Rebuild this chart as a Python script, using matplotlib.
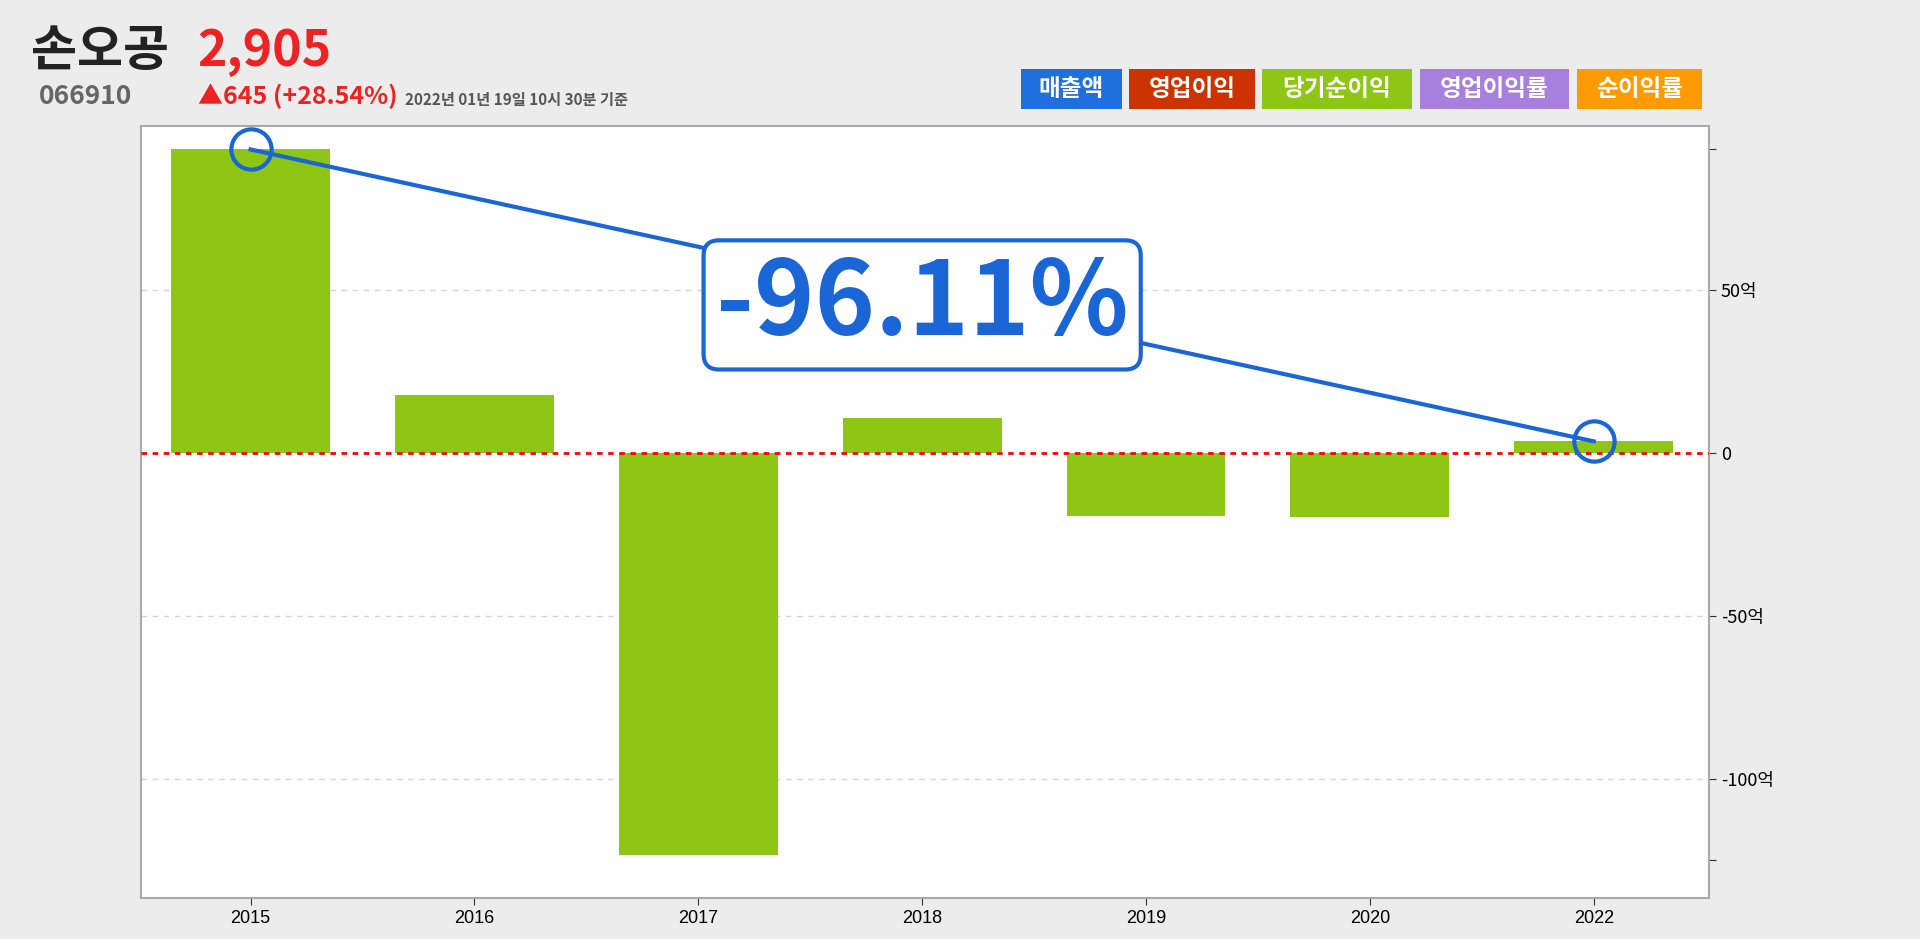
import matplotlib.pyplot as plt
from matplotlib.patches import Rectangle, Ellipse

plt.rcParams['font.family'] = ['Noto Sans CJK KR', 'DejaVu Sans']

years = ["2015", "2016", "2017", "2018", "2019", "2020", "2022"]
net_income = [93.2, 17.7, -123.3, 10.9, -19.2, -19.5, 3.63]
ytick_vals = [93.2, 50, 0, -50, -100, -125]
ytick_labels = ["", "50억", "0", "-50억", "-100억", ""]

legend_names = ["매출액", "영업이익", "당기순이익", "영업이익률", "순이익률"]
legend_colors = ["#1f6fdc", "#cc3300", "#8dc614", "#a77fdc", "#ff9b00"]

BLUE = "#1a66d6"
GREEN = "#8dc614"

fig = plt.figure(figsize=(19.2, 9.39), dpi=100)
fig.patch.set_facecolor("#ececec")
ax = fig.add_axes([0.0734, 0.0437, 0.8167, 0.8221])

x = list(range(len(years)))
ax.bar(x, net_income, width=0.71, color=GREEN, zorder=2)
ax.axhline(0, color="red", linestyle=(0, (2, 2)), linewidth=2, zorder=3)
for v in [50, -50, -100]:
    ax.axhline(v, color="#d5d5d5", linestyle=(0, (4, 4)), linewidth=1, zorder=1)

ax.set_xlim(-0.49, 6.515)
ax.set_ylim(-136.5, 100.4)
ax.set_xticks(x)
ax.set_xticklabels(years, fontsize=13, family=['Liberation Sans', 'DejaVu Sans'])
ax.yaxis.tick_right()
ax.set_yticks(ytick_vals)
ax.set_yticklabels(ytick_labels, fontsize=13)
ax.tick_params(axis="y", length=5, color="#333333")
ax.tick_params(axis="x", length=5, color="#333333")
for s in ax.spines.values():
    s.set_color("#aaaaaa")
    s.set_linewidth(1.5)

# change line between first and last
ax.plot([x[0], x[-1]], [net_income[0], net_income[-1]], color=BLUE, linewidth=3, zorder=4)
for xi, yi in [(x[0], net_income[0]), (x[-1], net_income[-1])]:
    ax.plot(xi, yi, marker="o", markersize=29, markerfacecolor="none",
            markeredgecolor=BLUE, markeredgewidth=3, zorder=5)

pct = (net_income[-1] - net_income[0]) / net_income[0] * 100
ax.text(3.0, 45.5, f"{pct:.2f}%", fontsize=74, fontweight="bold", color=BLUE,
        ha="center", va="center", zorder=6,
        bbox=dict(boxstyle="round,pad=0.12,rounding_size=0.15", facecolor="white",
                  edgecolor=BLUE, linewidth=3))

# header
fig.text(0.016, 0.945, "손오공", fontsize=36, fontweight="bold", color="#222222", va="center")
fig.text(0.103, 0.945, "2,905", fontsize=36, fontweight="bold", color="#ee2222", va="center")
fig.text(0.020, 0.897, "066910", fontsize=19, fontweight="bold", color="#666666", va="center")
fig.text(0.103, 0.897, "▲645 (+28.54%)", fontsize=18, fontweight="bold", color="#ee2222", va="center")
fig.text(0.211, 0.894, "2022년 01년 19일 10시 30분 기준", fontsize=11, fontweight="bold",
         color="#555555", va="center")

# legend buttons
lefts = [1021, 1129, 1262, 1420, 1577]
rights = [1122, 1255, 1412, 1569, 1702]
for name, c, l, r in zip(legend_names, legend_colors, lefts, rights):
    fig.patches.append(Rectangle((l / 1920, 1 - 109 / 939), (r - l) / 1920, 40 / 939,
                                 transform=fig.transFigure, facecolor=c, edgecolor="none"))
    fig.text((l + r) / 2 / 1920, 1 - 89 / 939, name, fontsize=17, fontweight="bold",
             color="white", ha="center", va="center")

fig.savefig("out.png", dpi=100, facecolor=fig.get_facecolor())
